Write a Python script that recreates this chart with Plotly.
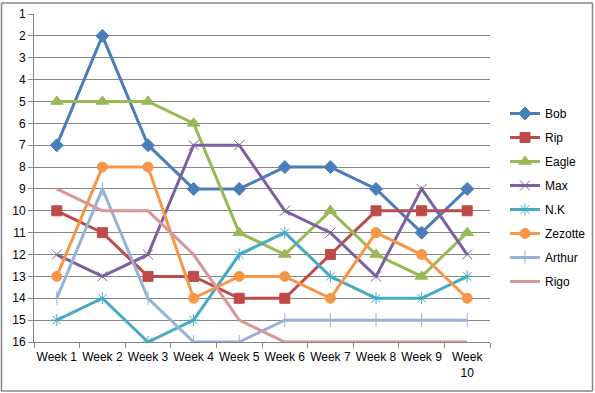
import plotly.graph_objects as go

weeks = ["Week 1", "Week 2", "Week 3", "Week 4", "Week 5",
         "Week 6", "Week 7", "Week 8", "Week 9", "Week 10"]
tick_labels = ["Week 1", "Week 2", "Week 3", "Week 4", "Week 5",
               "Week 6", "Week 7", "Week 8", "Week 9", "Week<br>10"]
y_ticks = list(range(1, 17))

bob = [7, 2, 7, 9, 9, 8, 8, 9, 11, 9]
rip = [10, 11, 13, 13, 14, 14, 12, 10, 10, 10]
eagle = [5, 5, 5, 6, 11, 12, 10, 12, 13, 11]
max_ = [12, 13, 12, 7, 7, 10, 11, 13, 9, 12]
nk = [15, 14, 16, 15, 12, 11, 13, 14, 14, 13]
zezotte = [13, 8, 8, 14, 13, 13, 14, 11, 12, 14]
arthur = [14, 9, 14, 16, 16, 15, 15, 15, 15, 15]
rigo = [9, 10, 10, 12, 15, 16, 16, 16, 16, 16]

series = [
    ("Bob", bob, "#4A7EBB", "diamond", 10),
    ("Rip", rip, "#BE4B48", "square", 10),
    ("Eagle", eagle, "#98B954", "triangle-up", 11),
    ("Max", max_, "#7D60A0", "x-thin-open", 10),
    ("N.K", nk, "#46AAC5", "asterisk-open", 10),
    ("Zezotte", zezotte, "#F79646", "circle", 10),
    ("Arthur", arthur, "#95B3D7", "line-ns-open", 10),
    ("Rigo", rigo, "#D99694", None, 0),
]

fig = go.Figure()
for name, vals, color, sym, size in series:
    if sym is None:
        fig.add_trace(go.Scatter(x=weeks, y=vals, name=name, mode="lines",
                                 legendgroup=name,
                                 line=dict(color=color, width=3)))
    else:
        fig.add_trace(go.Scatter(x=weeks, y=vals, name=name, mode="lines+markers",
                                 legendgroup=name,
                                 line=dict(color=color, width=3),
                                 marker=dict(symbol=sym, size=size, color=color,
                                             line=dict(color=color, width=1))))

px_l, px_r, px_t, px_b = 34, 490, 14, 342
W, H = 595, 393
pw, ph = px_r - px_l, px_b - px_t

def xp(px):
    return (px - px_l) / pw

def yp(py):
    return (px_b - py) / ph

border = dict(color="#868686", width=1.5)
bx0, bx1, by0, by1 = xp(1.5), xp(592.5), yp(391), yp(3)

fig.update_layout(
    width=W, height=H, autosize=False,
    margin=dict(l=px_l, r=W - px_r, t=px_t, b=H - px_b, pad=0, autoexpand=False),
    paper_bgcolor="white", plot_bgcolor="white",
    font=dict(family="Liberation Sans, Arial, sans-serif", size=12, color="black"),
    showlegend=True,
    legend=dict(xref="container", yref="container",
                x=505 / W, xanchor="left", y=1 - 197.5 / H, yanchor="middle",
                font=dict(size=12), tracegroupgap=5, itemwidth=30,
                maxheight=360, bgcolor="rgba(0,0,0,0)"),
    xaxis=dict(type="category", tickvals=weeks, ticktext=tick_labels,
               tickson="boundaries", ticks="outside", ticklen=5, tickangle=0,
               ticklabelstandoff=4,
               tickcolor="#868686", showgrid=False, showline=True,
               linecolor="#868686", linewidth=1, range=[-0.5, 9.5],
               tickfont=dict(size=12)),
    yaxis=dict(range=[16, 1], tickvals=y_ticks, ticks="outside", ticklen=5,
               tickcolor="#868686", showgrid=True, gridcolor="#868686",
               gridwidth=1, showline=True, linecolor="#868686", linewidth=1,
               zeroline=False, tickfont=dict(size=12)),
    shapes=[
        dict(type="line", xref="paper", yref="paper", x0=bx0, x1=bx1, y0=by1, y1=by1, line=border),
        dict(type="line", xref="paper", yref="paper", x0=bx0, x1=bx1, y0=by0, y1=by0, line=border),
        dict(type="line", xref="paper", yref="paper", x0=bx0, x1=bx0, y0=by0, y1=by1, line=border),
        dict(type="line", xref="paper", yref="paper", x0=bx1, x1=bx1, y0=by0, y1=by1, line=border),
    ],
)

fig.write_html("out.html", config={"displayModeBar": False},
               post_script="document.body.style.margin='0';document.body.style.overflow='hidden';")
